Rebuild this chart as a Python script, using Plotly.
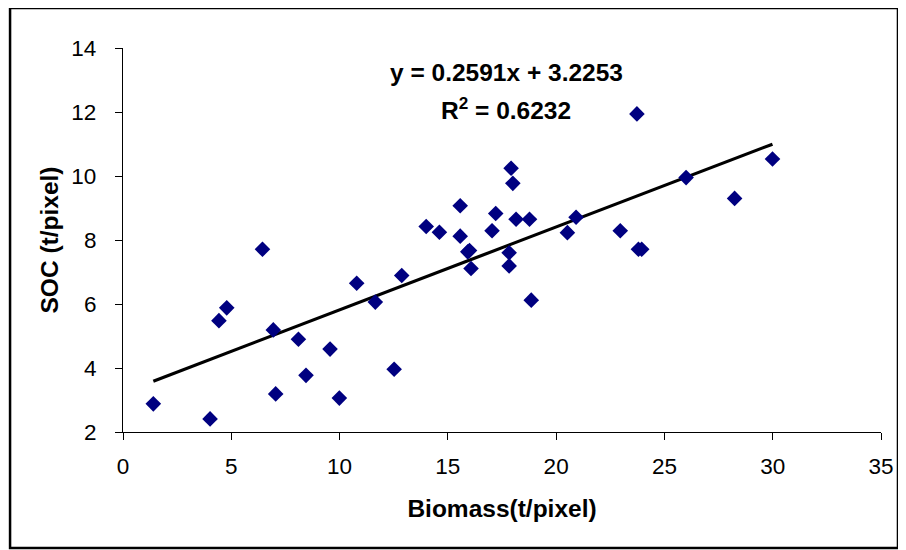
import numpy as np
import plotly.graph_objects as go

biomass = [1.40, 4.02, 4.43, 4.79, 6.44, 6.94, 7.05, 8.10, 8.45, 9.56, 9.99, 10.79,
           11.65, 12.52, 12.87, 14.00, 14.61, 15.57, 15.57, 15.92, 16.00, 16.07, 17.04,
           17.21, 17.83, 17.83, 17.92, 18.00, 18.15, 18.77, 18.85, 20.52, 20.92, 22.96,
           23.73, 23.80, 23.95, 26.00, 28.24, 29.99]
soc = [2.88, 2.41, 5.48, 5.88, 7.71, 5.19, 3.19, 4.90, 3.77, 4.59, 3.06, 6.65,
       6.06, 3.96, 6.89, 8.42, 8.24, 8.12, 9.07, 7.63, 7.67, 7.11, 8.29,
       8.83, 7.60, 7.19, 10.24, 9.77, 8.65, 8.65, 6.12, 8.23, 8.71, 8.29,
       11.94, 7.71, 7.71, 9.95, 9.30, 10.53]

slope = 0.2591
intercept = 3.2253
r2 = 0.6232

x_ticks = [0, 5, 10, 15, 20, 25, 30, 35]
y_ticks = [2, 4, 6, 8, 10, 12, 14]

xl = np.array([min(biomass), max(biomass)])
yl = slope * xl + intercept

fig = go.Figure()
fig.add_trace(go.Scatter(x=xl, y=yl, mode="lines",
                         line=dict(color="black", width=3.2), hoverinfo="skip"))
fig.add_trace(go.Scatter(x=biomass, y=soc, mode="markers",
                         marker=dict(symbol="diamond", size=12, color="#000080",
                                     line=dict(width=0))))

font_family = "Liberation Sans, Arial, sans-serif"
axis_common = dict(showgrid=False, zeroline=False, showline=True, linecolor="black",
                   linewidth=1.2, ticks="outside", ticklen=7, tickcolor="black",
                   tickwidth=1.2, tickfont=dict(family=font_family, size=22.5, color="black"))

fig.update_layout(
    width=898, height=542,
    margin=dict(l=115, r=25, t=40, b=118),
    paper_bgcolor="white", plot_bgcolor="white",
    showlegend=False,
    xaxis=dict(range=[0, 35], tickvals=x_ticks, ticklabelstandoff=7,
               title=dict(text="<b>Biomass(t/pixel)</b>", standoff=21,
                          font=dict(family=font_family, size=24.5, color="black")),
               **axis_common),
    yaxis=dict(range=[2, 14], tickvals=y_ticks, ticklabelstandoff=14,
               title=dict(text="<b>SOC (t/pixel)</b>", standoff=5,
                          font=dict(family=font_family, size=24.5, color="black")),
               **axis_common),
    annotations=[
        dict(x=17.7, y=13.25, xref="x", yref="y", showarrow=False,
             text="<b>y = 0.2591x + 3.2253</b>",
             font=dict(family=font_family, size=24.5, color="black")),
        dict(x=17.7, y=12.1, xref="x", yref="y", showarrow=False,
             text="<b>R<sup>2</sup> = 0.6232</b>",
             font=dict(family=font_family, size=24.5, color="black")),
    ],
    shapes=[dict(type="rect", xref="paper", yref="paper",
                 x0=-0.149, x1=1.0224, y0=-0.302, y1=1.104,
                 line=dict(color="black", width=2.5), fillcolor="rgba(0,0,0,0)")],
)

fig.write_html("out.html")
